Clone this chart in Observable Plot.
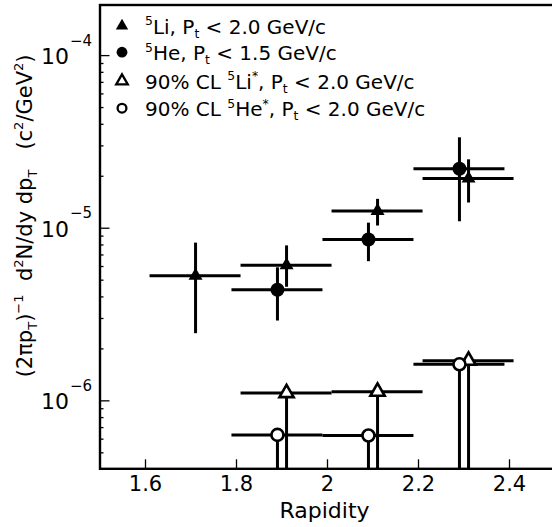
<!DOCTYPE html>
<html><head><meta charset="utf-8">
<script src="https://cdn.jsdelivr.net/npm/d3@7"></script>
<script src="https://cdn.jsdelivr.net/npm/@observablehq/plot@0.6"></script>
<style>html,body{margin:0;padding:0;overflow:hidden;background:#fff} svg{max-width:none !important}</style>
</head><body><div id="chart"></div>
<script>
// 5Li measurements
const liRap   = [1.71, 1.91, 2.11, 2.31];
const liVal   = [5.3e-6, 6.1e-6, 1.26e-5, 1.94e-5];
const liLo    = [2.45e-6, 4.55e-6, 1.03e-5, 1.40e-5];
const liHi    = [8.2e-6, 7.9e-6, 1.47e-5, 2.49e-5];
const liBinLo = [1.61, 1.81, 2.01, 2.21];
const liBinHi = [1.81, 2.01, 2.21, 2.41];
// 5He measurements
const heRap   = [1.89, 2.09, 2.29];
const heVal   = [4.4e-6, 8.6e-6, 2.21e-5];
const heLo    = [2.9e-6, 6.4e-6, 1.09e-5];
const heHi    = [5.9e-6, 1.07e-5, 3.34e-5];
const heBinLo = [1.79, 1.99, 2.19];
const heBinHi = [1.99, 2.19, 2.39];
// 90% CL upper limits, 5Li*
const liStarRap   = [1.91, 2.11, 2.31];
const liStarLim   = [1.11e-6, 1.13e-6, 1.71e-6];
const liStarBinLo = [1.81, 2.01, 2.21];
const liStarBinHi = [2.01, 2.21, 2.41];
// 90% CL upper limits, 5He*
const heStarRap   = [1.89, 2.09, 2.29];
const heStarLim   = [6.35e-7, 6.3e-7, 1.63e-6];
const heStarBinLo = [1.79, 1.99, 2.19];
const heStarBinHi = [1.99, 2.19, 2.39];

const xTicks = [1.6, 1.8, 2.0, 2.2, 2.4];
const xTickLabels = ["1.6", "1.8", "2", "2.2", "2.4"];
const yMajor = [1e-6, 1e-5, 1e-4];
const yExp = ["\u22126", "\u22125", "\u22124"];
const yMinor = [5e-7,6e-7,7e-7,8e-7,9e-7,2e-6,3e-6,4e-6,5e-6,6e-6,7e-6,8e-6,9e-6,2e-5,3e-5,4e-5,5e-5,6e-5,7e-5,8e-5,9e-5];
const yLabel = "(2\u03C0p_{T})^{\u22121}  d^{2}N/dy dp_{T}   (c^{2}/GeV^{2})";
const xLabel = "Rapidity";
const legendLabels = [
  "^{5}Li, P_{t} < 2.0 GeV/c",
  "^{5}He, P_{t} < 1.5 GeV/c",
  "90% CL ^{5}Li^{*}, P_{t} < 2.0 GeV/c",
  "90% CL ^{5}He^{*}, P_{t} < 2.0 GeV/c"
];

const yMin = 4.04e-7, yMax = 1.964e-4;

const li = liRap.map((x, i) => ({x, v: liVal[i], lo: liLo[i], hi: liHi[i], b0: liBinLo[i], b1: liBinHi[i]}));
const he = heRap.map((x, i) => ({x, v: heVal[i], lo: heLo[i], hi: heHi[i], b0: heBinLo[i], b1: heBinHi[i]}));
const liS = liStarRap.map((x, i) => ({x, v: liStarLim[i], b0: liStarBinLo[i], b1: liStarBinHi[i]}));
const heS = heStarRap.map((x, i) => ({x, v: heStarLim[i], b0: heStarBinLo[i], b1: heStarBinHi[i]}));

const legendSym = [
  {symbol: "triangle", fill: "black", stroke: "none", r: 4.6},
  {symbol: "circle", fill: "black", stroke: "none", r: 5.4},
  {symbol: "triangle", fill: "white", stroke: "black", r: 4.3},
  {symbol: "circle", fill: "white", stroke: "black", r: 4.4}
];
const legendDy = [20.8, 47.2, 76, 103.2];

const F = "DejaVu Sans";
const legendMarks = legendLabels.flatMap((lab, i) => [
  Plot.dot([lab], {frameAnchor: "top-left", dx: 22, dy: legendDy[i], symbol: legendSym[i].symbol,
    r: legendSym[i].r, fill: legendSym[i].fill, stroke: legendSym[i].stroke, strokeWidth: 2.3}),
  Plot.text([lab], {frameAnchor: "top-left", dx: 45, dy: legendDy[i] + 7.8, text: d => d,
    textAnchor: "start", lineAnchor: "bottom", fontSize: 20})
]);

const chart = Plot.plot({
  width: 556, height: 527,
  marginLeft: 99.5, marginRight: 1.5, marginTop: 4.5, marginBottom: 58.7,
  style: {fontFamily: F, background: "white", color: "black", maxWidth: "none"},
  x: {domain: [1.5, 2.5]},
  y: {type: "log", domain: [yMin, yMax]},
  marks: [
    // ticks
    Plot.axisX({anchor: "bottom", ticks: xTicks, tickSize: 9, dy: -9, tickFormat: () => "", label: null, strokeWidth: 1.3}),
    Plot.axisY({anchor: "left", ticks: yMajor, tickSize: 10, dx: 10, tickFormat: () => "", label: null, strokeWidth: 1.3}),
    Plot.axisY({anchor: "left", ticks: yMinor, tickSize: 4, dx: 4, tickFormat: () => "", label: null, strokeWidth: 1.3}),
    // tick labels
    Plot.text(xTicks, {x: d => d, frameAnchor: "bottom", dy: 22, lineAnchor: "bottom", text: (d, i) => xTickLabels[i], fontSize: 21}),
    Plot.text(yMajor, {y: d => d, frameAnchor: "left", dx: -31, dy: 8.5, lineAnchor: "bottom", textAnchor: "end", text: () => "10", fontSize: 22}),
    Plot.text(yMajor, {y: d => d, frameAnchor: "left", dx: -30, dy: -10, lineAnchor: "bottom", textAnchor: "start", text: (d, i) => yExp[i], fontSize: 15}),
    Plot.text([xLabel], {frameAnchor: "bottom", dy: 49, lineAnchor: "bottom", text: d => d, fontSize: 22, dx: -3}),
    Plot.text([yLabel], {frameAnchor: "left", dx: -74.5, dy: -21, rotate: -90, textAnchor: "middle", lineAnchor: "middle", text: d => d, fontSize: 21}),
    // error bars
    Plot.ruleY(li, {y: "v", x1: "b0", x2: "b1", strokeWidth: 3}),
    Plot.ruleX(li, {x: "x", y1: "lo", y2: "hi", strokeWidth: 3}),
    Plot.ruleY(he, {y: "v", x1: "b0", x2: "b1", strokeWidth: 3}),
    Plot.ruleX(he, {x: "x", y1: "lo", y2: "hi", strokeWidth: 3}),
    Plot.ruleY(liS, {y: "v", x1: "b0", x2: "b1", strokeWidth: 3}),
    Plot.ruleX(liS, {x: "x", y1: "v", y2: () => yMin, strokeWidth: 3}),
    Plot.ruleY(heS, {y: "v", x1: "b0", x2: "b1", strokeWidth: 3}),
    Plot.ruleX(heS, {x: "x", y1: "v", y2: () => yMin, strokeWidth: 3}),
    // markers
    Plot.dot(li, {x: "x", y: "v", symbol: "triangle", r: 5.2, fill: "black"}),
    Plot.dot(he, {x: "x", y: "v", symbol: "circle", r: 7, fill: "black"}),
    Plot.dot(liS, {x: "x", y: "v", symbol: "triangle", r: 5.3, fill: "white", stroke: "black", strokeWidth: 2.6}),
    Plot.dot(heS, {x: "x", y: "v", symbol: "circle", r: 6, fill: "white", stroke: "black", strokeWidth: 2.6}),
    ...legendMarks,
    Plot.frame({stroke: "black", strokeWidth: 2.4})
  ]
});

// render ^{..} and _{..} markup as tspans
function richify(svg) {
  d3.select(svg).selectAll("text").each(function() {
    const t = this.textContent;
    if (!/[\^_]\{/.test(t)) return;
    const sel = d3.select(this);
    const fs = parseFloat(getComputedStyle(this).fontSize) || 16;
    sel.text(null);
    const re = /(\^|_)\{([^}]*)\}|([^\^_]+)/g;
    let m, shift = 0;
    while ((m = re.exec(t))) {
      const ts = sel.append("tspan");
      let target = 0, size = null;
      if (m[1] === "^") { target = -0.42 * fs; size = 0.62 * fs; ts.text(m[2]); }
      else if (m[1] === "_") { target = 0.22 * fs; size = 0.62 * fs; ts.text(m[2]); }
      else ts.text(m[3]);
      const d = target - shift;
      if (d) ts.attr("dy", d);
      shift = target;
      if (size) ts.attr("font-size", size);
    }
  });
}
chart.style.maxWidth = "none";
document.getElementById("chart").appendChild(chart);
richify(chart);
</script>
</body></html>
